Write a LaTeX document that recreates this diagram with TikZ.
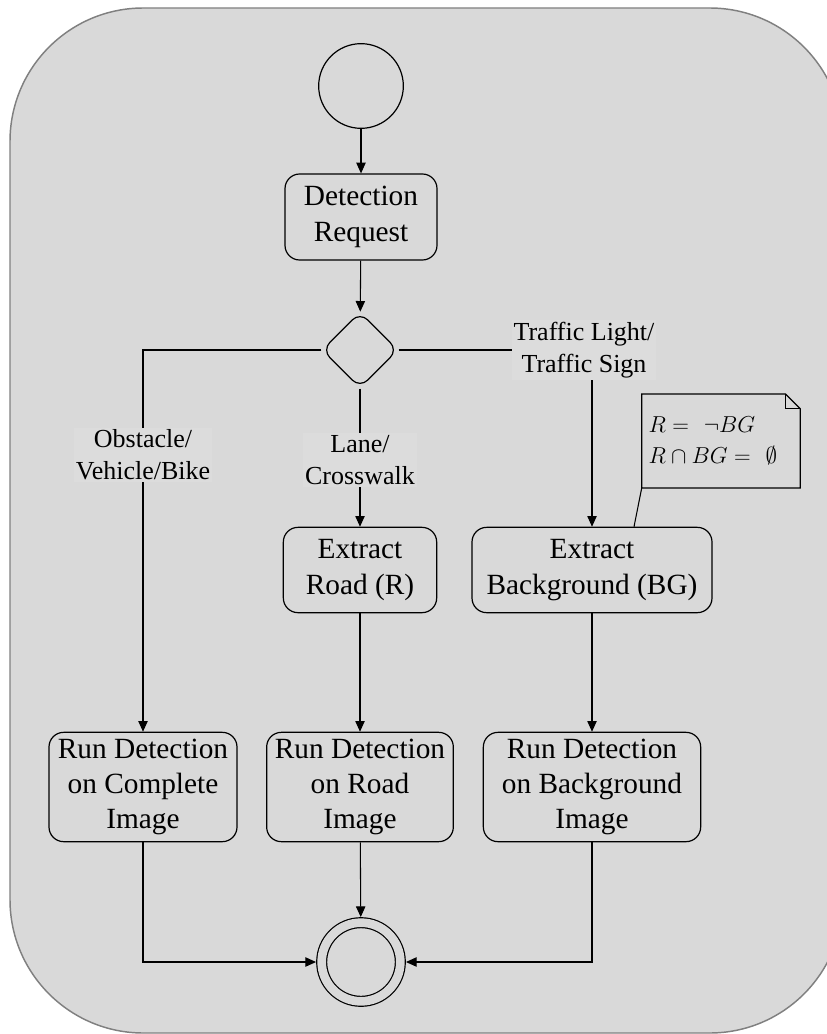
\documentclass[tikz,border=0pt]{standalone}
\usepackage{amsmath}
\usepackage{amssymb}
\usepackage{fontspec}
\setmainfont{Liberation Serif}
\usetikzlibrary{arrows.meta,shapes,positioning}
\definecolor{fdgray}{RGB}{217,217,217}
\definecolor{fdlabel}{RGB}{220,220,220}
\definecolor{fdframe}{RGB}{128,128,128}
\tikzstyle{activity} = [rectangle, rounded corners=11pt, draw=black, line width=0.9pt, align=center, inner sep=2pt, font=\fontsize{22}{26.5}\selectfont]
\tikzstyle{choice} = [diamond, draw=black, line width=0.9pt, rounded corners=8pt, minimum width=57pt, minimum height=57pt, inner sep=0pt]
\tikzstyle{guard} = [fill=fdlabel, align=center, inner sep=1.5pt, font=\fontsize{19.5}{24}\selectfont]
\tikzstyle{arrow} = [line width=0.8pt, -{Triangle[length=8pt,width=7pt]}]
\tikzstyle{wire} = [line width=0.8pt]

\begin{document}
\begin{tikzpicture}[x=0.75pt,y=-0.75pt]
% Canvas
\useasboundingbox (0,0) rectangle (827,1034);
\clip (0,0) rectangle (827,1034);
\draw[fill=fdgray, draw=fdframe, line width=1.1pt, rounded corners=100pt] (10,8) rectangle (843,1033);

% Start, request and decision
\node[circle, draw, line width=0.9pt, minimum size=63.5pt] (start) at (361,86) {};
\node[activity, minimum width=114pt, minimum height=64.5pt] (request) at (361,217) {Detection\\Request};
\node[choice] (branch) at (360,350) {};

% Extraction steps
\node[activity, minimum width=115pt, minimum height=64pt] (road) at (360,570) {Extract\\Road (R)};
\node[activity, minimum width=180pt, minimum height=64pt] (background) at (592,570) {Extract\\Background (BG)};

% Detection runs
\node[activity, minimum width=141pt, minimum height=82pt] (runall) at (143,787) {Run Detection\\on Complete\\Image};
\node[activity, minimum width=140pt, minimum height=82pt] (runroad) at (360,787) {Run Detection\\on Road\\Image};
\node[activity, minimum width=163pt, minimum height=82pt] (runbg) at (592,787) {Run Detection\\on Background\\Image};

% End
\node[circle, draw, double=fdgray, double distance=6.5pt, line width=0.9pt, minimum size=59pt, outer sep=4.2pt] (stop) at (361,962) {};

% Note
\node[align=left, inner sep=5pt, text width=108.5pt, minimum height=70pt, font=\fontsize{19}{23}\selectfont] (note) at (721,441) {$R =\ \neg BG$\\$R \cap BG =\ \emptyset$};
\draw[line width=0.9pt] (note.north west) -- ([xshift=-11pt]note.north east) -- ([yshift=-11pt]note.north east) -- (note.south east) -- (note.south west) -- cycle;
\draw[line width=0.9pt] ([xshift=-11pt]note.north east) |- ([yshift=-11pt]note.north east);

% Connections
\draw[arrow] (start) -- (request);
\draw[arrow] (request) -- (branch);
\draw[arrow] (branch.west) -| (runall.north);
\draw[arrow] (branch.south) -- (road.north);
\draw[arrow] (branch.east) -| (background.north);
\draw[arrow] (road) -- (runroad);
\draw[arrow] (background) -- (runbg);
\draw[arrow] (runall.south) |- (stop.west);
\draw[arrow] (runroad) -- (stop);
\draw[arrow] (runbg.south) |- (stop.east);
\draw[wire] (note.south west) -- ([xshift=31.5pt]background.north);

% Guards
\node[guard] (obstacle) at (143,455) {Obstacle/\\Vehicle/Bike};
\node[guard] (lane) at (360,460) {Lane/\\Crosswalk};
\node[guard] (traffic) at (584,350) {Traffic Light/\\Traffic Sign};
\end{tikzpicture}
\end{document}
